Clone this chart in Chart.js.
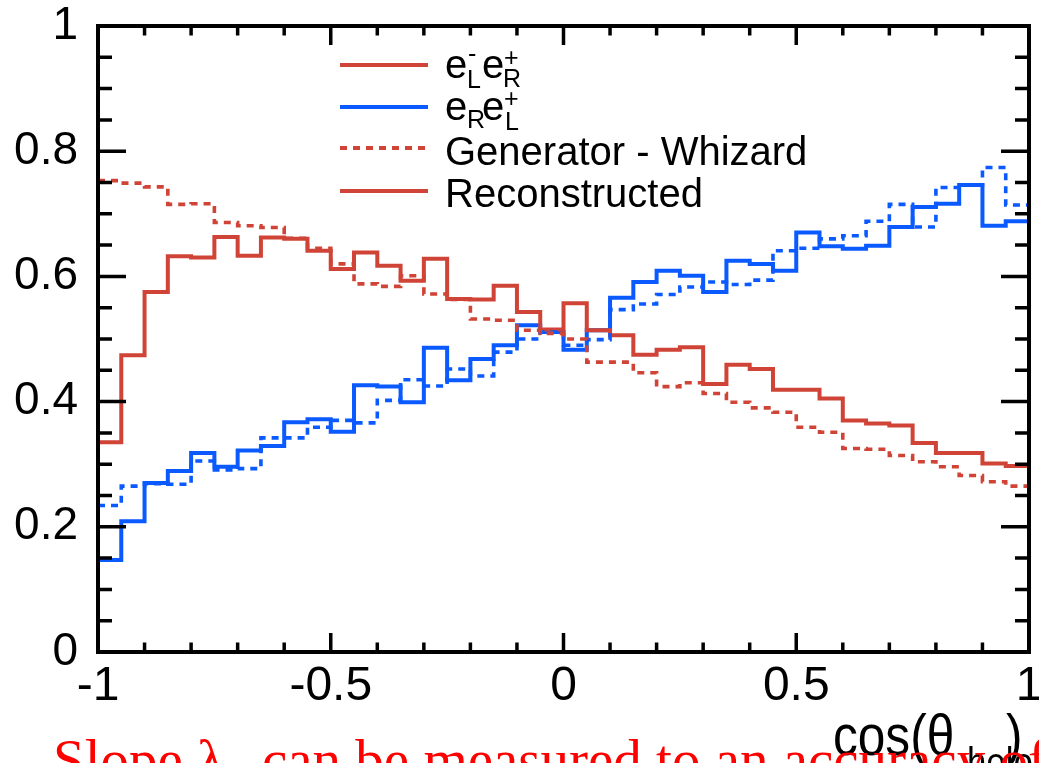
<!DOCTYPE html>
<html>
<head>
<meta charset="utf-8">
<title>cos(θ_helo) – e-e+ polarisation</title>
<script src="https://cdn.jsdelivr.net/npm/chart.js@4.4.1/dist/chart.umd.min.js"></script>
<style>
  html, body { margin: 0; padding: 0; background: #fff; overflow: hidden; }
  #wrap { width: 1039px; height: 763px; position: relative; }
</style>
</head>
<body>
<div id="wrap"><canvas id="chartHelicity" width="1039" height="763"></canvas></div>
<script>
// ========== DONNÉES ==========
// bin edges of cos(theta_helo), 40 bins
const binEdges = [
  -1.00, -0.95, -0.90, -0.85, -0.80, -0.75, -0.70, -0.65, -0.60, -0.55,
  -0.50, -0.45, -0.40, -0.35, -0.30, -0.25, -0.20, -0.15, -0.10, -0.05,
   0.00,  0.05,  0.10,  0.15,  0.20,  0.25,  0.30,  0.35,  0.40,  0.45,
   0.50,  0.55,  0.60,  0.65,  0.70,  0.75,  0.80,  0.85,  0.90,  0.95,
   1.00
];

// e-L e+R, reconstructed
const recoLR = [
  0.335, 0.474, 0.575, 0.632, 0.630, 0.663, 0.633, 0.662, 0.660, 0.641,
  0.612, 0.638, 0.617, 0.593, 0.628, 0.564, 0.563, 0.585, 0.543, 0.515,
  0.557, 0.514, 0.506, 0.475, 0.483, 0.487, 0.428, 0.459, 0.452, 0.419,
  0.419, 0.405, 0.370, 0.365, 0.362, 0.334, 0.318, 0.318, 0.301, 0.297
];

// e-L e+R, generator (Whizard)
const genLR = [
  0.753, 0.749, 0.743, 0.715, 0.716, 0.686, 0.681, 0.678, 0.661, 0.645,
  0.620, 0.588, 0.584, 0.601, 0.572, 0.563, 0.532, 0.530, 0.514, 0.509,
  0.500, 0.463, 0.463, 0.446, 0.424, 0.430, 0.413, 0.399, 0.390, 0.383,
  0.359, 0.351, 0.325, 0.324, 0.314, 0.304, 0.296, 0.282, 0.272, 0.265
];

// e-R e+L, reconstructed
const recoRL = [
  0.147, 0.209, 0.270, 0.289, 0.318, 0.296, 0.322, 0.329, 0.367, 0.372,
  0.352, 0.426, 0.424, 0.399, 0.486, 0.434, 0.468, 0.490, 0.522, 0.511,
  0.483, 0.514, 0.566, 0.591, 0.609, 0.601, 0.575, 0.625, 0.620, 0.609,
  0.670, 0.648, 0.644, 0.649, 0.679, 0.711, 0.716, 0.746, 0.681, 0.688
];

// e-R e+L, generator (Whizard)
const genRL = [
  0.234, 0.265, 0.269, 0.268, 0.305, 0.291, 0.293, 0.342, 0.342, 0.359,
  0.370, 0.366, 0.402, 0.435, 0.425, 0.452, 0.441, 0.479, 0.500, 0.511,
  0.490, 0.499, 0.547, 0.556, 0.571, 0.583, 0.591, 0.587, 0.594, 0.641,
  0.645, 0.660, 0.665, 0.688, 0.715, 0.679, 0.742, 0.746, 0.774, 0.714
];

const xTickValues = [-1, -0.5, 0, 0.5, 1];
const yTickValues = [0, 0.2, 0.4, 0.6, 0.8, 1];

const RED = '#d04437';
const BLUE = '#0a5aff';
const DOTS = [7, 6];

(function() {
    'use strict';

    // histogram -> step points (left edges + closing right edge)
    function toSteps(values) {
        const pts = values.map((v, i) => ({ x: binEdges[i], y: v }));
        pts.push({ x: binEdges[values.length], y: values[values.length - 1] });
        return pts;
    }

    function histo(label, values, color, dashed) {
        return {
            label: label,
            data: toSteps(values),
            stepped: 'before',
            borderColor: color,
            borderWidth: dashed ? 3.6 : 4,
            borderDash: dashed ? DOTS : [],
            borderCapStyle: 'butt',
            pointRadius: 0,
            fill: false
        };
    }

    // ========== CADRE + GRADUATIONS (vers l'intérieur, 4 côtés) ==========
    const frameTicks = {
        id: 'frameTicks',
        afterDatasetsDraw(chart) {
            const { ctx, chartArea: a, scales: { x, y } } = chart;
            ctx.save();
            ctx.strokeStyle = '#000';
            ctx.lineWidth = 3.5;
            ctx.beginPath();
            for (let i = 0; i <= 20; i++) {
                const px = x.getPixelForValue(-1 + i * 0.1);
                const len = i % 5 === 0 ? 19 : 9.5;
                ctx.moveTo(px, a.bottom); ctx.lineTo(px, a.bottom - len);
                ctx.moveTo(px, a.top); ctx.lineTo(px, a.top + len);
            }
            for (let i = 0; i <= 20; i++) {
                const py = y.getPixelForValue(i * 0.05);
                const len = i % 4 === 0 ? 28 : 14;
                ctx.moveTo(a.left, py); ctx.lineTo(a.left + len, py);
                ctx.moveTo(a.right, py); ctx.lineTo(a.right - len, py);
            }
            ctx.stroke();
            ctx.lineWidth = 4;
            ctx.strokeRect(a.left, a.top, a.right - a.left, a.bottom - a.top);
            ctx.restore();
        }
    };

    // ========== LÉGENDE + TITRE AXE + LÉGENDE DE PAGE ==========
    const SANS = "'Liberation Sans', Arial, Helvetica, sans-serif";

    function text(ctx, str, x, y, size) {
        ctx.font = size + 'px ' + SANS;
        ctx.fillText(str, x, y);
    }

    const annotations = {
        id: 'annotations',
        afterDraw(chart) {
            const ctx = chart.ctx;
            ctx.save();
            ctx.textBaseline = 'alphabetic';
            ctx.textAlign = 'left';

            // legend samples
            const rows = [
                { y: 65, color: RED, dash: [] },
                { y: 107, color: BLUE, dash: [] },
                { y: 148, color: RED, dash: DOTS },
                { y: 191, color: RED, dash: [] }
            ];
            ctx.lineWidth = 4;
            rows.forEach(r => {
                ctx.strokeStyle = r.color;
                ctx.setLineDash(r.dash);
                ctx.beginPath();
                ctx.moveTo(340, r.y);
                ctx.lineTo(428, r.y);
                ctx.stroke();
            });
            ctx.setLineDash([]);

            ctx.fillStyle = '#000';
            // e-L e+R
            text(ctx, 'e', 445, 78, 40);
            text(ctx, '-', 468, 62, 25);
            text(ctx, 'L', 467, 88, 25);
            text(ctx, 'e', 482, 78, 40);
            text(ctx, '+', 504, 66, 25);
            text(ctx, 'R', 503, 87, 25);
            // e-R e+L
            text(ctx, 'e', 445, 120, 40);
            text(ctx, 'R', 467, 128, 25);
            text(ctx, 'e', 482, 120, 40);
            text(ctx, '+', 504, 107, 25);
            text(ctx, 'L', 505, 130, 25);

            text(ctx, 'Generator - Whizard', 445, 165, 40);
            text(ctx, 'Reconstructed', 445, 207, 40);

            // axis title, condensed like the ROOT output
            ctx.save();
            ctx.translate(833, 755);
            ctx.scale(0.87, 1);
            text(ctx, 'cos(θ', 0, 0, 57);
            ctx.restore();
            ctx.save();
            ctx.translate(967, 776);
            ctx.scale(0.87, 1);
            text(ctx, 'helo', 0, 0, 40);
            ctx.restore();
            ctx.save();
            ctx.translate(1006, 755);
            ctx.scale(0.87, 1);
            text(ctx, ')', 0, 0, 57);
            ctx.restore();

            // slide caption underneath
            ctx.fillStyle = '#ff0000';
            ctx.font = "57px 'Liberation Serif', 'DejaVu Serif', serif";
            ctx.fillText('Slope λ', 53, 779);
            ctx.fillText('can be measured to an accuracy of', 262, 779);

            ctx.restore();
        }
    };

    function initChart() {
        const ctx = document.getElementById('chartHelicity');
        Chart.defaults.font.family = SANS;
        Chart.defaults.color = '#000';

        new Chart(ctx, {
            type: 'line',
            data: {
                datasets: [
                    histo('e-L e+R generator', genLR, RED, true),
                    histo('e-R e+L generator', genRL, BLUE, true),
                    histo('e-L e+R reconstructed', recoLR, RED, false),
                    histo('e-R e+L reconstructed', recoRL, BLUE, false)
                ]
            },
            options: {
                responsive: false,
                devicePixelRatio: 1,
                animation: false,
                layout: { padding: { top: 26, right: 10, left: 0, bottom: 0 } },
                plugins: { legend: { display: false }, tooltip: { enabled: false } },
                scales: {
                    x: {
                        type: 'linear',
                        min: -1,
                        max: 1,
                        grid: { display: false, drawTicks: false },
                        border: { display: false },
                        afterBuildTicks: (axis) => { axis.ticks = xTickValues.map(v => ({ value: v })); },
                        afterFit: (s) => { s.height = 111; s.paddingLeft = 0; s.paddingRight = 0; },
                        ticks: {
                            font: { size: 48 },
                            color: '#000',
                            padding: 6,
                            maxRotation: 0,
                            autoSkip: false,
                            callback: (v) => String(+v.toFixed(2))
                        }
                    },
                    y: {
                        type: 'linear',
                        min: 0,
                        max: 1,
                        grid: { display: false, drawTicks: false },
                        border: { display: false },
                        afterBuildTicks: (axis) => { axis.ticks = yTickValues.map(v => ({ value: v })); },
                        afterFit: (s) => { s.width = 98; s.paddingTop = 0; s.paddingBottom = 0; },
                        ticks: {
                            font: { size: 46 },
                            color: '#000',
                            padding: 20,
                            autoSkip: false,
                            callback: (v) => String(+v.toFixed(2))
                        }
                    }
                }
            },
            plugins: [frameTicks, annotations]
        });
    }

    document.addEventListener('DOMContentLoaded', initChart);
})();
</script>
</body>
</html>
